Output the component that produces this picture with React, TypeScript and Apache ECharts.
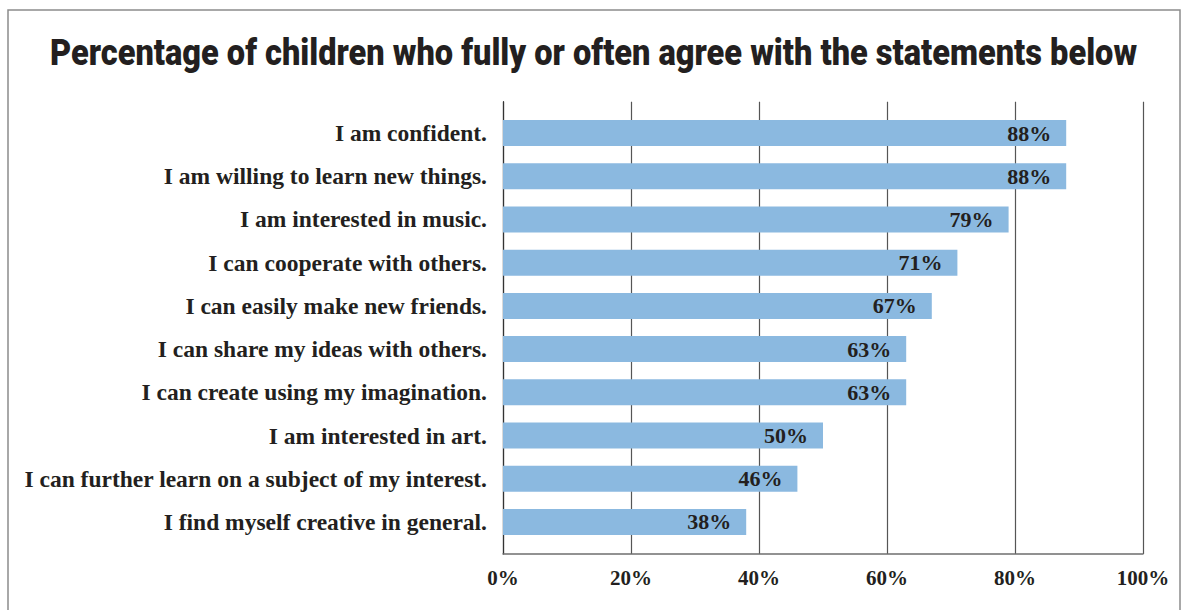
import React, { useEffect, useRef } from "react";
import * as echarts from "echarts";

const titleText = "Percentage of children who fully or often agree with the statements below";
const categories = [
  "I am confident.",
  "I am willing to learn new things.",
  "I am interested in music.",
  "I can cooperate with others.",
  "I can easily make new friends.",
  "I can share my ideas with others.",
  "I can create using my imagination.",
  "I am interested in art.",
  "I can further learn on a subject of my interest.",
  "I find myself creative in general.",
];
const values = [88, 88, 79, 71, 67, 63, 63, 50, 46, 38];
const xTicks = [0, 20, 40, 60, 80, 100];

const SERIF = "'Liberation Serif', 'DejaVu Serif', serif";
const TITLE_FONT = "900 37px Roboto, 'Liberation Sans', sans-serif";

export default function App() {
  const ref = useRef<HTMLDivElement>(null);
  useEffect(() => {
    if (!ref.current) return;
    const chart = echarts.init(ref.current, null, { renderer: "svg" });
    const c = document.createElement("canvas").getContext("2d");
    let scaleX = 1;
    if (c) {
      c.font = TITLE_FONT;
      const w = c.measureText(titleText).width;
      if (w > 0) scaleX = 1087 / w;
    }
    const L = 503, R = 1181 - 1143;
    chart.setOption({
      animation: false,
      backgroundColor: "#ffffff",
      graphic: [
        {
          type: "rect",
          shape: { x: 8, y: 10, width: 1172, height: 640 },
          style: { fill: "none", stroke: "#8c8c8c", lineWidth: 1.5 },
          z: 0,
        },
        {
          type: "text",
          x: 593.5,
          y: 53,
          scaleX,
          style: {
            text: titleText,
            font: TITLE_FONT,
            fill: "#231f20",
            textAlign: "center",
            textVerticalAlign: "middle",
          },
        },
      ],
      grid: [
        { left: L, right: R, top: 111.4, height: 432.2 },
        { left: L, right: R, top: 101.7, height: 452.3 },
      ],
      xAxis: [
        { gridIndex: 0, type: "value", min: 0, max: 100, show: false },
        {
          gridIndex: 1,
          type: "value",
          min: 0,
          max: 100,
          interval: 20,
          axisLine: { show: true, lineStyle: { color: "#6e6e6e", width: 1.5 } },
          axisTick: { show: false },
          splitLine: { show: true, lineStyle: { color: "#555555", width: 1.2 } },
          axisLabel: {
            formatter: (v: number) => (xTicks.includes(v) ? v + "%" : ""),
            fontFamily: SERIF,
            fontWeight: "bold",
            fontSize: 21,
            color: "#231f20",
            margin: 13,
          },
        },
      ],
      yAxis: [
        {
          gridIndex: 0,
          type: "category",
          inverse: true,
          data: categories,
          axisLine: { show: false },
          axisTick: { show: false },
          axisLabel: {
            fontFamily: SERIF,
            fontWeight: "bold",
            fontSize: 23.5,
            color: "#231f20",
            margin: 16,
          },
        },
        {
          gridIndex: 1,
          type: "value",
          min: 0,
          max: 1,
          axisLine: { show: true, lineStyle: { color: "#333333", width: 1.2 } },
          axisTick: { show: false },
          axisLabel: { show: false },
          splitLine: { show: false },
        },
      ],
      series: [
        {
          type: "bar",
          xAxisIndex: 0,
          yAxisIndex: 0,
          data: values,
          barWidth: 26,
          itemStyle: { color: "#8bb9e0" },
          z: 3,
          label: {
            show: true,
            position: "insideRight",
            distance: 15,
            formatter: "{c}%",
            fontFamily: SERIF,
            fontWeight: "bold",
            fontSize: 22,
            color: "#231f20",
          },
        },
      ],
    });
    return () => chart.dispose();
  }, []);
  return (
    <div
      ref={ref}
      style={{ position: "absolute", left: 0, top: 0, width: 1181, height: 610 }}
    />
  );
}
